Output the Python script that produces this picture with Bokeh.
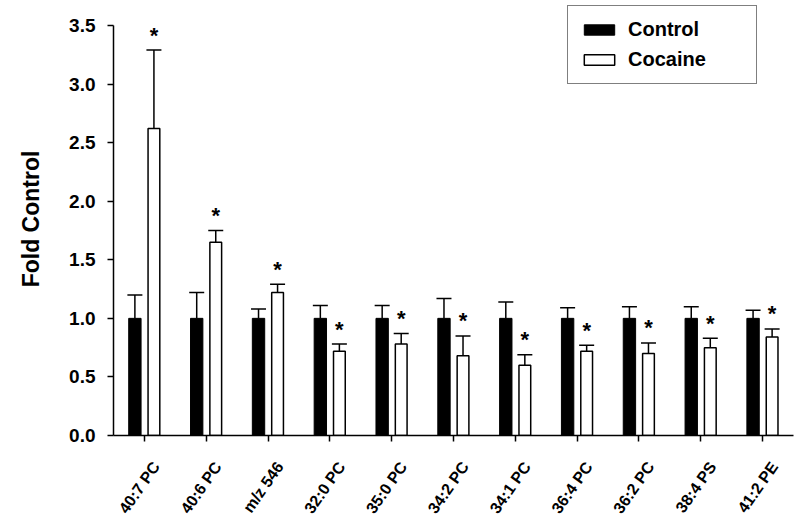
import math
from bokeh.plotting import figure
from bokeh.models import (ColumnDataSource, Whisker, Legend, LegendItem,
                          NumeralTickFormatter, LinearAxis, Range1d, FixedTicker)
from bokeh.transform import dodge
from bokeh.core.properties import value
from bokeh.embed import file_html
from bokeh.resources import INLINE

# ---- data ----
lipids = ["40:7 PC", "40:6 PC", "m/z 546", "32:0 PC", "35:0 PC", "34:2 PC",
          "34:1 PC", "36:4 PC", "36:2 PC", "38:4 PS", "41:2 PE"]
control = [1.0] * 11
control_err = [0.20, 0.22, 0.08, 0.11, 0.11, 0.17, 0.14, 0.09, 0.10, 0.10, 0.07]
cocaine = [2.62, 1.65, 1.22, 0.72, 0.78, 0.68, 0.60, 0.72, 0.70, 0.75, 0.84]
cocaine_err = [0.67, 0.10, 0.07, 0.06, 0.09, 0.17, 0.09, 0.05, 0.09, 0.08, 0.07]
significant = ["*"] * 11
y_ticks = [0.0, 0.5, 1.0, 1.5, 2.0, 2.5, 3.0, 3.5]
y_axis_max = 3.5

FONT = "Liberation Sans"
n = len(lipids)
idx = list(range(n))

src = ColumnDataSource(dict(
    idx=idx,
    cat=lipids,
    control=control,
    control_top=[c + e for c, e in zip(control, control_err)],
    cocaine=cocaine,
    cocaine_top=[c + e for c, e in zip(cocaine, cocaine_err)],
    star=significant,
))

# frame: x 113..793, y 2..436 ; 3.5 sits at y=25 (117.4 px per unit)
p = figure(x_range=Range1d(-0.5, n - 0.5), y_range=(0, 3.696),
           width=800, height=524, output_backend="svg", toolbar_location=None,
           min_border_left=113, min_border_right=7, min_border_top=2,
           min_border_bottom=88)

OFF = 0.154
W = 0.2
r_ctrl = p.vbar(x=dodge("idx", -OFF), top="control", width=W,
                source=src, fill_color="black", line_color="black", line_width=1)
r_coc = p.vbar(x=dodge("idx", OFF), top="cocaine", width=W * 0.95,
               source=src, fill_color="white", line_color="black", line_width=1.5)

for xoff, base_col, top_col in [(-OFF, "control", "control_top"), (OFF, "cocaine", "cocaine_top")]:
    w = Whisker(base=dodge("idx", xoff), lower=base_col, upper=top_col,
                source=src, dimension="height", line_color="black", line_width=1.5)
    w.lower_head = None
    w.upper_head.size = 15
    w.upper_head.line_width = 1.5
    w.upper_head.line_color = "black"
    p.add_layout(w)

p.text(x=dodge("idx", OFF), y="cocaine_top", text="star", source=src,
       text_font=value(FONT), text_font_style="bold", text_font_size="22px",
       text_align="center", text_baseline="middle", y_offset=-15, text_color="black")

# axes
p.grid.visible = False
p.outline_line_color = None
p.background_fill_color = "white"
p.border_fill_color = "white"

p.yaxis.ticker = y_ticks
p.yaxis.bounds = (0, y_axis_max)
p.yaxis.formatter = NumeralTickFormatter(format="0.0")
p.yaxis.axis_label = "Fold Control"
p.yaxis.axis_label_text_font = FONT
p.yaxis.axis_label_text_font_style = "bold"
p.yaxis.axis_label_text_font_size = "23px"
p.yaxis.axis_label_text_color = "black"
p.yaxis.axis_label_standoff = 22
p.yaxis.major_label_text_font = FONT
p.yaxis.major_label_text_font_style = "bold"
p.yaxis.major_label_text_font_size = "19px"
p.yaxis.major_label_standoff = 12
p.yaxis.minor_tick_line_color = None
p.yaxis.major_tick_out = 6
p.yaxis.major_tick_in = 0

# main x axis: line and ticks at each category, no labels of its own
p.xaxis.ticker = FixedTicker(ticks=idx)
p.xaxis.major_label_overrides = {i: "" for i in idx}
p.xaxis.minor_tick_line_color = None
p.xaxis.major_label_text_font_size = "1px"
p.xaxis.major_label_standoff = 0
p.xaxis.major_tick_out = 6
p.xaxis.major_tick_in = 0

for ax in (p.xaxis, p.yaxis):
    ax.axis_line_width = 1.5
    ax.axis_line_color = "black"
    ax.major_tick_line_width = 1.5
    ax.major_tick_line_color = "black"
    ax.major_label_text_color = "black"

# second, line-less axis carrying the rotated category names, nudged right
shift = 0.19
p.extra_x_ranges = {"labels": Range1d(start=-0.5 - shift, end=n - 0.5 - shift)}
lab_axis = LinearAxis(x_range_name="labels",
                      ticker=FixedTicker(ticks=idx),
                      major_label_overrides={i: name for i, name in zip(idx, lipids)},
                      axis_line_color=None, major_tick_line_color=None,
                      minor_tick_line_color=None,
                      major_label_orientation=55 * math.pi / 180,
                      major_label_standoff=16,
                      major_label_text_font=FONT, major_label_text_font_style="bold",
                      major_label_text_font_size="16px", major_label_text_color="black")
p.add_layout(lab_axis, "below")

legend = Legend(items=[LegendItem(label="Control", renderers=[r_ctrl]),
                       LegendItem(label="Cocaine", renderers=[r_coc])],
                location=(454, 351), orientation="vertical",
                label_text_font=FONT, label_text_font_style="bold",
                label_text_font_size="20px", label_text_color="black",
                glyph_width=38, glyph_height=13, label_width=116, label_height=22,
                label_standoff=10, padding=12, spacing=7, margin=0,
                border_line_color="black", border_line_width=1.5,
                background_fill_color="white", background_fill_alpha=1.0)
p.add_layout(legend)

open("out.html", "w").write(file_html(p, INLINE))
